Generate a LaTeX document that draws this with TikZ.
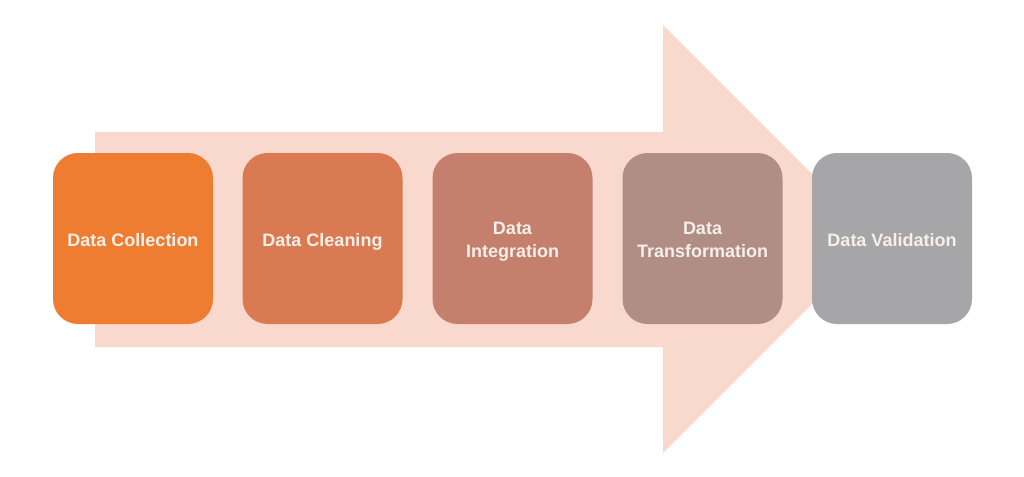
\documentclass[tikz,border=0pt]{standalone}
\usepackage{fontspec}
\setmainfont{Liberation Sans}
\definecolor{arrowc}{HTML}{F9D9CE}
\definecolor{c1}{HTML}{EE7D31}
\definecolor{c2}{HTML}{D97A52}
\definecolor{c3}{HTML}{C47F6D}
\definecolor{c4}{HTML}{B08E85}
\definecolor{c5}{HTML}{A6A5A8}
\definecolor{txt}{HTML}{F7EFE8}
\newcommand{\boxlbl}[1]{\raisebox{-3pt}[\height][\depth]{\begin{tabular}{@{}c@{}}#1\end{tabular}}}
\tikzset{
  stepbox/.style={rounded corners=25pt, minimum width=160pt, minimum height=171pt,
    inner sep=0pt, text=txt, align=center,
    font=\fontsize{18}{23}\selectfont\bfseries}
}
\begin{document}
\begin{tikzpicture}[x=1pt,y=-1pt]
\useasboundingbox[fill=white] (0,0) rectangle (1024,476);
\fill[arrowc] (95,132) -- (663,132) -- (663,25) -- (877,239) -- (663,453) -- (663,347) -- (95,347) -- cycle;
\node[stepbox, fill=c1] (n1) at (133,238.5) {\boxlbl{Data Collection}};
\node[stepbox, fill=c2] (n2) at (322.5,238.5) {\boxlbl{Data Cleaning}};
\node[stepbox, fill=c3] (n3) at (512.5,238.5) {\boxlbl{Data\\Integration}};
\node[stepbox, fill=c4] (n4) at (702.5,238.5) {\boxlbl{Data\\Transformation}};
\node[stepbox, fill=c5] (n5) at (892,238.5) {\boxlbl{Data Validation}};
\end{tikzpicture}
\end{document}
